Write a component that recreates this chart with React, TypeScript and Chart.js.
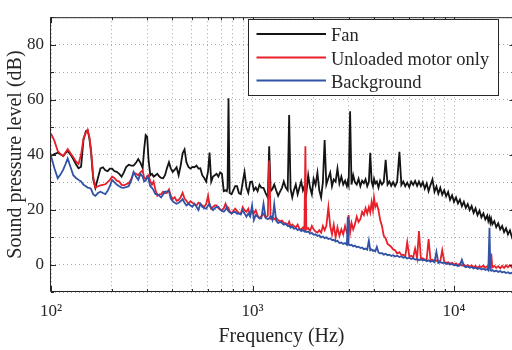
import { useEffect, useRef } from "react";
import { Chart, registerables } from "chart.js";

Chart.register(...registerables);

// ---------- data ----------
const freqLow = [
  100, 104, 108, 112, 115, 118, 121, 125, 129, 133,
  137, 141, 145, 149, 152, 155, 158, 162, 166, 171,
  176, 181, 186, 191, 196, 201, 206, 212, 218, 224,
  230, 236, 243, 250, 257, 264, 271, 278, 285, 290,
  295, 300, 305, 311, 317, 323, 330,
];
const fanLow = [
  39.5, 40.2, 40.7, 40.0, 39.5, 40.5, 41.3, 40.0, 38.4, 36.5,
  35.0, 35.6, 45.5, 48.5, 48.8, 46.0, 41.0, 31.0, 27.9, 31.5,
  35.0, 35.4, 34.3, 34.0, 34.9, 34.9, 34.0, 33.7, 33.0, 32.0,
  33.5, 35.5, 36.3, 36.0, 36.0, 37.0, 38.4, 37.0, 35.1, 42.0,
  47.1, 46.5, 38.0, 32.5, 33.0, 32.0, 32.5,
];
const motorLow = [
  47.6, 45.0, 41.3, 40.0, 39.5, 40.8, 42.0, 40.5, 39.0, 37.5,
  36.6, 40.0, 45.9, 48.0, 49.0, 46.5, 41.9, 32.0, 27.9, 28.5,
  28.8, 29.0, 29.2, 30.0, 30.8, 32.0, 31.5, 30.5, 30.2, 29.0,
  28.8, 29.2, 29.6, 31.0, 33.5, 33.0, 32.5, 33.5, 34.3, 31.5,
  31.1, 32.0, 32.5, 30.2, 29.1, 30.2, 27.0,
];
const backgroundLow = [
  39.5, 35.0, 31.4, 33.0, 34.5, 36.5, 38.6, 35.5, 32.5, 31.5,
  30.8, 30.2, 29.0, 28.5, 28.0, 27.9, 27.5, 25.5, 25.0, 26.0,
  26.5, 26.0, 25.6, 26.8, 28.5, 30.8, 30.0, 29.1, 28.5, 28.0,
  27.9, 28.2, 28.5, 30.5, 33.7, 32.0, 30.8, 33.0, 32.0, 30.2,
  30.5, 32.0, 31.0, 28.5, 27.9, 27.0, 25.6,
];

const freqMid = [
  337, 345, 352, 360, 368, 376, 385, 393, 402, 411,
  420, 430, 440, 450, 460, 470, 481, 492, 503, 515,
  527, 539, 551, 563, 576, 589, 602, 612, 624, 637,
  650, 663, 677, 691, 705, 720, 735, 745, 752, 760,
  770, 787, 803, 820, 838, 856, 875, 894, 913, 933,
  953, 974, 995, 1016, 1038, 1060, 1083,
];
const fanMid = [
  33.0, 32.0, 31.5, 31.4, 32.5, 35.0, 37.2, 35.0, 33.7, 34.5,
  35.4, 32.5, 36.0, 40.5, 41.9, 37.2, 35.5, 34.9, 35.5, 35.4,
  36.0, 34.9, 35.0, 32.5, 31.5, 30.2, 34.0, 40.7, 30.2, 32.0,
  32.5, 33.0, 32.0, 33.5, 33.0, 26.7, 27.0, 26.7, 28.0, 60.5,
  26.0, 25.6, 27.0, 28.5, 28.5, 26.0, 25.6, 30.0, 33.7, 28.0,
  26.1, 30.0, 30.2, 27.0, 28.0, 26.7, 29.0,
];
const motorMid = [
  25.0, 25.5, 25.6, 26.5, 26.0, 26.1, 27.3, 25.0, 23.8, 24.5,
  23.2, 23.5, 24.5, 26.1, 24.0, 23.2, 22.1, 23.0, 22.5, 22.0,
  21.5, 22.5, 22.1, 21.5, 21.0, 22.0, 25.0, 21.5, 20.3, 21.0,
  21.5, 21.5, 20.5, 20.0, 19.8, 20.5, 22.1, 21.0, 20.0, 20.5,
  19.5, 18.6, 19.5, 20.3, 19.5, 18.6, 18.6, 20.9, 19.8, 19.2,
  20.3, 18.0, 20.0, 18.6, 19.8, 17.8, 16.8,
];
const backgroundMid = [
  25.6, 25.0, 24.4, 25.5, 26.5, 26.5, 26.7, 24.0, 23.0, 22.5,
  22.1, 22.5, 23.0, 23.8, 22.5, 21.5, 22.1, 21.5, 21.0, 22.1,
  21.0, 19.8, 22.1, 21.0, 20.5, 20.3, 21.5, 22.1, 20.5, 19.8,
  20.5, 21.0, 21.0, 20.0, 19.5, 19.2, 20.0, 21.0, 20.0, 19.5,
  19.0, 18.6, 19.0, 19.2, 18.5, 18.6, 18.2, 19.8, 18.6, 17.4,
  18.6, 17.5, 21.5, 16.2, 18.0, 17.4, 16.8,
];

const freqHigh = [
  1106, 1134, 1162, 1191, 1210, 1230, 1255, 1282, 1310, 1340,
  1370, 1400, 1430, 1462, 1495, 1520, 1545, 1575, 1605, 1640,
  1675, 1710, 1745, 1780, 1810, 1830, 1850, 1890, 1930, 1970,
  2010, 2055, 2100, 2145, 2190, 2235, 2280, 2325, 2380, 2430,
  2480, 2530, 2585, 2640, 2700, 2760, 2820, 2880, 2940, 2970,
  3000, 3050, 3100, 3160, 3220, 3290, 3360, 3430, 3500, 3570,
  3640, 3710, 3780, 3840, 3900, 3960, 4010, 4070, 4140, 4220,
  4300, 4390, 4480, 4580, 4680, 4780, 4880, 4990, 5100, 5220,
  5360, 5480, 5600, 5730, 5860, 6000, 6130, 6270, 6410, 6560,
  6700, 6850, 7000, 7160, 7320, 7480, 7650, 7820, 8000, 8180,
  8360, 8550, 8740, 8940, 9140, 9350, 9560, 9780, 10000, 10230,
  10460, 10700, 10940, 11190, 11440, 11700, 11960, 12230, 12510, 12790,
  13080, 13380, 13680, 13990, 14300, 14620, 14800, 15000, 15150, 15300,
  15500, 15850, 16200, 16570, 16950, 17330, 17720, 18120, 18530, 18950,
  19380, 19820, 20000,
];
const fanHigh = [
  28.0, 27.9, 26.0, 24.4, 43.0, 26.7, 27.5, 29.1, 27.0, 25.0,
  26.5, 27.9, 30.2, 28.0, 27.0, 54.4, 27.5, 24.4, 27.0, 29.1,
  25.6, 28.0, 30.2, 27.0, 28.5, 27.5, 26.0, 32.5, 28.0, 25.6,
  31.2, 29.0, 33.4, 27.0, 24.4, 30.0, 45.3, 29.1, 31.5, 33.4,
  28.5, 31.0, 30.2, 34.9, 29.5, 32.0, 29.1, 30.5, 28.5, 30.2,
  29.0, 55.8, 29.1, 32.5, 30.0, 29.1, 31.2, 28.5, 30.5, 29.6,
  31.0, 28.5, 30.0, 40.7, 30.2, 28.5, 31.2, 29.5, 30.2, 28.0,
  30.5, 29.1, 30.0, 38.1, 29.1, 30.2, 28.6, 30.0, 28.5, 30.0,
  41.0, 29.0, 30.2, 28.5, 29.8, 28.2, 30.2, 29.0, 30.4, 28.6,
  30.2, 28.5, 30.0, 27.6, 29.5, 26.7, 29.0, 31.0, 26.5, 28.4,
  25.8, 27.9, 25.4, 27.0, 24.8, 26.4, 23.6, 25.2, 22.8, 24.4,
  22.2, 23.6, 21.2, 22.8, 20.6, 22.0, 19.8, 21.3, 18.8, 20.4,
  18.0, 19.6, 17.2, 18.6, 16.4, 17.8, 15.8, 17.2, 15.2, 16.6,
  14.6, 15.8, 13.6, 15.0, 12.8, 14.0, 11.8, 13.2, 11.0, 12.4,
  10.0, 11.8, 10.4,
];
const motorHigh = [
  17.5, 18.5, 17.0, 17.8, 37.8, 16.8, 17.4, 16.5, 17.0, 16.2,
  15.7, 16.0, 15.2, 15.0, 14.5, 15.6, 14.0, 14.6, 14.0, 13.5,
  14.5, 13.0, 12.8, 13.5, 12.6, 43.0, 12.8, 13.3, 12.2, 14.0,
  12.8, 12.0, 11.6, 12.5, 11.6, 14.0, 12.5, 14.0, 20.9, 14.0,
  11.0, 14.5, 9.9, 13.5, 10.4, 12.8, 11.0, 14.0, 11.6, 12.0,
  18.0, 11.6, 15.1, 12.8, 14.5, 17.4, 15.5, 16.5, 19.2, 18.0,
  20.5, 18.5, 20.9, 19.0, 22.7, 19.8, 24.4, 21.0, 22.1, 19.7,
  16.3, 14.0, 10.5, 9.5, 7.5, 7.0, 6.4, 5.5, 5.2, 4.0,
  4.5, 3.5, 3.5, 3.0, 8.1, 2.9, 3.2, 2.5, 5.8, 2.3,
  12.2, 2.0, 2.3, 1.7, 2.0, 9.3, 1.5, 1.7, 1.2, 1.5,
  1.0, 1.3, 5.2, 1.0, 0.6, 0.8, 0.3, 0.6, 0.0, 0.4,
  -0.2, 0.3, -0.4, 0.0, -0.6, -0.2, -0.8, -0.3, -1.0, -0.5,
  -1.2, -0.6, -1.0, -0.4, -1.2, -0.6, -1.0, -0.8, -1.2, 4.0,
  -1.0, -0.5, -1.2, -0.6, -1.4, -0.5, -1.2, -0.3, -1.0, -0.2,
  -1.0, 0.6, -0.4,
];
const backgroundHigh = [
  16.8, 22.1, 17.0, 16.5, 16.8, 17.5, 16.2, 22.0, 16.0, 15.1,
  15.5, 15.1, 14.5, 14.8, 14.0, 14.2, 13.4, 13.8, 13.0, 13.2,
  12.6, 12.8, 12.2, 12.6, 12.0, 12.2, 11.8, 12.0, 11.2, 11.5,
  10.8, 11.0, 10.4, 10.6, 9.9, 10.2, 9.6, 9.9, 9.3, 9.5,
  8.9, 9.0, 8.4, 8.6, 7.8, 8.0, 7.5, 7.8, 7.2, 17.4,
  7.3, 7.0, 7.2, 6.6, 6.9, 6.3, 6.5, 6.0, 6.2, 5.6,
  5.8, 5.4, 8.7, 5.2, 5.5, 5.0, 5.2, 4.8, 6.4, 4.4,
  4.0, 4.2, 3.6, 3.9, 3.4, 3.6, 3.1, 3.4, 2.9, 3.2,
  2.7, 3.0, 2.5, 2.7, 2.2, 2.5, 2.0, 2.3, 1.8, 2.0,
  1.6, 1.9, 1.5, 1.7, 1.2, 1.5, 1.0, 1.3, 0.8, 4.6,
  0.6, 0.9, 0.5, 0.7, 0.2, 0.4, 0.0, 0.2, -0.3, -0.1,
  -0.6, -0.3, 1.7, -0.5, -1.0, -0.7, -1.2, -0.9, -1.4, -1.1,
  -1.6, -1.3, -1.8, -1.5, -2.0, -1.7, -2.1, 13.4, -2.0, -2.3,
  -2.0, -2.5, -2.2, -2.7, -2.4, -2.9, -2.6, -3.1, -2.8, -3.3,
  -3.0, -3.5, -3.2,
];

const seriesLabels = ["Fan", "Unloaded motor only", "Background"];
const seriesColors = ["#141414", "#e8202a", "#3152a6"];
const xLabelDecades = [100, 1000, 10000];
const yLabelValues = [0, 20, 40, 60, 80];

const frequency = [...freqLow, ...freqMid, ...freqHigh];
const fan = [...fanLow, ...fanMid, ...fanHigh];
const motor = [...motorLow, ...motorMid, ...motorHigh];
const background = [...backgroundLow, ...backgroundMid, ...backgroundHigh];

const FONT = "'Liberation Serif', 'Times New Roman', serif";
const INK = "#262626";
const SUP: Record<string, string> = { "0": "⁰", "1": "¹", "2": "²", "3": "³", "4": "⁴", "5": "⁵" };

const isDecade = (v: number) => {
  const l = Math.log10(v);
  return Math.abs(l - Math.round(l)) < 1e-9;
};

const framePlugin = {
  id: "matlabFrame",
  afterDraw(chart: any) {
    const { ctx, chartArea: a, scales } = chart;
    const xs = scales.x;
    const ys = scales.y;
    ctx.save();
    ctx.strokeStyle = INK;
    ctx.lineWidth = 1;
    ctx.beginPath();
    ctx.moveTo(a.left - 0.5, a.top + 0.5);
    ctx.lineTo(a.right, a.top + 0.5);
    ctx.moveTo(a.left - 0.5, a.top);
    ctx.lineTo(a.left - 0.5, a.bottom - 0.5);
    ctx.lineTo(a.right, a.bottom - 0.5);
    ctx.stroke();
    ctx.beginPath();
    for (const t of xs.ticks) {
      const px = Math.round(xs.getPixelForValue(t.value)) + 0.5;
      const len = isDecade(t.value) ? 6 : 3;
      ctx.moveTo(px, a.bottom);
      ctx.lineTo(px, a.bottom - len);
      ctx.moveTo(px, a.top);
      ctx.lineTo(px, a.top + len);
    }
    for (const t of ys.ticks) {
      const py = Math.round(ys.getPixelForValue(t.value)) + 0.5;
      const len = t.value % 20 === 0 ? 5 : 3;
      ctx.moveTo(a.left, py);
      ctx.lineTo(a.left + len, py);
      ctx.moveTo(a.right, py);
      ctx.lineTo(a.right + 2.5 - len, py);
    }
    ctx.stroke();

    // legend
    const bx = 248.5, by = 19.5, bw = 250, bh = 76;
    ctx.fillStyle = "#ffffff";
    ctx.fillRect(bx, by, bw, bh);
    ctx.strokeStyle = INK;
    ctx.lineWidth = 1;
    ctx.strokeRect(bx, by, bw, bh);
    const rows = [34, 57.5, 80.5];
    chart.data.datasets.forEach((ds: any, i: number) => {
      const y = rows[i];
      ctx.strokeStyle = ds.borderColor;
      ctx.lineWidth = 1.8;
      ctx.beginPath();
      ctx.moveTo(256.5, y);
      ctx.lineTo(326, y);
      ctx.stroke();
      ctx.fillStyle = INK;
      ctx.font = `18.5px ${FONT}`;
      ctx.textAlign = "left";
      ctx.textBaseline = "alphabetic";
      ctx.fillText(ds.label, 331, y + 7);
    });
    ctx.restore();
  },
};

export default function App() {
  const ref = useRef<HTMLCanvasElement>(null);

  useEffect(() => {
    const canvas = ref.current;
    if (!canvas) return;
    const toPoints = (ys: number[]) => frequency.map((f, i) => ({ x: f, y: ys[i] }));
    const values = [fan, motor, background];
    const chart = new Chart(canvas, {
      type: "line",
      data: {
        datasets: values.map((v, i) => ({
          label: seriesLabels[i],
          data: toPoints(v),
          borderColor: seriesColors[i],
          backgroundColor: seriesColors[i],
          borderWidth: 1.8,
          pointRadius: 0,
          tension: 0,
          fill: false,
          order: 3 - i,
        })),
      },
      options: {
        responsive: false,
        animation: false,
        devicePixelRatio: 1,
        events: [],
        layout: { padding: { top: 5, right: 0, left: 0, bottom: 0 } },
        plugins: { legend: { display: false }, tooltip: { enabled: false } },
        scales: {
          x: {
            type: "logarithmic",
            min: 100,
            max: 19400,
            afterBuildTicks: (scale: any) => {
              scale.ticks = scale.ticks.filter((t: any) => {
                const m = t.value / Math.pow(10, Math.floor(Math.log10(t.value) + 1e-9));
                return Math.abs(m - Math.round(m)) < 1e-6;
              });
            },
            afterFit: (scale: any) => {
              scale.height = 58;
            },
            grid: { color: "#a8a8a8", lineWidth: 1, drawTicks: false },
            border: { display: false, dash: [1, 3] },
            ticks: {
              autoSkip: false,
              maxRotation: 0,
              minRotation: 0,
              padding: 9,
              color: INK,
              font: { family: FONT, size: 17 },
              callback: (v: any) => {
                const n = Number(v);
                if (!xLabelDecades.includes(n)) return "";
                const e = String(Math.round(Math.log10(n)));
                return "10" + e.split("").map((c) => SUP[c]).join("");
              },
            },
            title: {
              display: true,
              text: "Frequency (Hz)",
              color: INK,
              font: { family: FONT, size: 20 },
              padding: { top: 0, bottom: 1 },
            },
          },
          y: {
            type: "linear",
            min: -10,
            max: 90,
            afterFit: (scale: any) => {
              scale.width = 51;
            },
            grid: { color: "#a8a8a8", lineWidth: 1, drawTicks: false },
            border: { display: false, dash: [1, 3] },
            ticks: {
              stepSize: 5,
              padding: 7,
              color: INK,
              font: { family: FONT, size: 17 },
              callback: (v: any) => (yLabelValues.includes(Number(v)) ? String(v) : ""),
            },
            title: {
              display: true,
              text: "Sound pressure level (dB)",
              color: INK,
              font: { family: FONT, size: 20 },
              padding: { top: 4, bottom: 0 },
            },
          },
        },
      } as any,
      plugins: [framePlugin],
    });
    return () => chart.destroy();
  }, []);

  return (
    <div
      style={{
        position: "fixed",
        left: 0,
        top: 0,
        width: 512,
        height: 350,
        background: "#ffffff",
        overflow: "hidden",
      }}
    >
      <canvas ref={ref} width={512} height={350} style={{ display: "block", width: 512, height: 350 }} />
    </div>
  );
}
